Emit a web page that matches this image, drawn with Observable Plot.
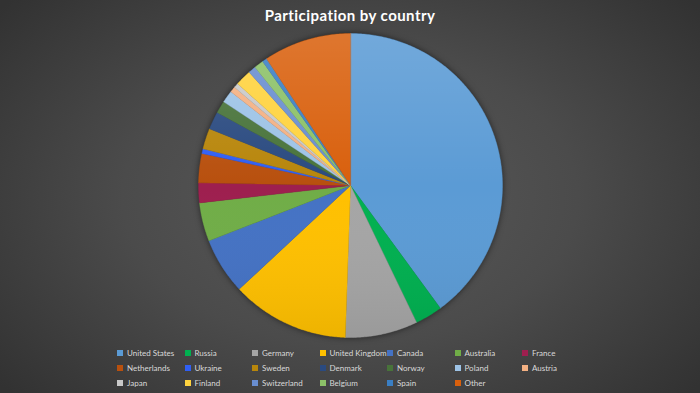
<!DOCTYPE html>
<html><head><meta charset="utf-8">
<script src="https://cdn.jsdelivr.net/npm/d3@7"></script>
<script src="https://cdn.jsdelivr.net/npm/@observablehq/plot@0.6"></script>
<style>
html,body{margin:0;padding:0;}
body{width:700px;height:393px;overflow:hidden;position:relative;
 background:radial-gradient(ellipse 65% 75% at 50% 50%, #5a5a5a 0%, #4b4b4b 50%, #323232 100%);
 font-family:Lato,"Open Sans",sans-serif;}
#title{position:absolute;top:6px;left:0;width:700px;text-align:center;color:#fff;font-weight:bold;font-size:15px;line-height:18px;letter-spacing:0.45px;}
#chart{position:absolute;top:30px;left:0;filter:drop-shadow(0 0 3px rgba(0,0,0,0.55));}
#legend{position:absolute;left:117px;top:345px;display:grid;grid-template-columns:repeat(7,67.5px);grid-auto-rows:15px;}
.item{display:flex;align-items:center;font-size:8px;color:#d9d9d9;white-space:nowrap;}
.sw{width:6px;height:6px;margin-right:4px;flex:none;}
</style></head>
<body>
<svg width="0" height="0" style="position:absolute"><defs>
<linearGradient id="shade" x1="0" y1="0" x2="0" y2="1">
<stop offset="0" stop-color="#fff" stop-opacity="0.14"/>
<stop offset="0.5" stop-color="#fff" stop-opacity="0"/>
<stop offset="1" stop-color="#000" stop-opacity="0.07"/>
</linearGradient></defs></svg>
<div id="title">Participation by country</div>
<div id="chart"></div>
<div id="legend"></div>
<script>
const countries = ["United States","Russia","Germany","United Kingdom","Canada","Australia","France",
  "Netherlands","Ukraine","Sweden","Denmark","Norway","Poland","Austria",
  "Japan","Finland","Switzerland","Belgium","Spain","Other"];
const shares = [39.9, 2.9, 7.7, 12.5, 6.0, 4.1, 2.1, 3.1, 0.5, 2.2, 1.9, 1.3, 1.3, 0.6, 0.5, 1.7, 0.8, 1.0, 0.5, 9.3];
const colors = ["#5B9BD5","#00B050","#A5A5A5","#FFC000","#4472C4","#70AD47","#9E1F4F",
  "#B8500E","#2F5FF5","#B8860B","#2A4A80","#48733A","#9DC3E6","#F4B183",
  "#C9C9C9","#FFD33F","#698ED0","#8CC168","#3A7FC4","#D9600D"];

const arcs = d3.pie().sort(null).value(d => d)(shares);
const pts = [];
arcs.forEach((a, i) => {
  const name = countries[i];
  pts.push({country: name, x: 0, y: 0});
  const n = Math.max(2, Math.ceil((a.endAngle - a.startAngle) / 0.01));
  for (let k = 0; k <= n; k++) {
    const t = a.startAngle + (a.endAngle - a.startAngle) * k / n;
    pts.push({country: name, x: Math.sin(t), y: Math.cos(t)});
  }
});

const chart = Plot.plot({
  width: 700, height: 310,
  marginLeft: 198, marginRight: 198, marginTop: 3, marginBottom: 3,
  x: {domain: [-1, 1], axis: null},
  y: {domain: [-1, 1], axis: null},
  color: {domain: countries, range: colors},
  style: {background: "transparent", overflow: "visible"},
  marks: [
    Plot.line(pts, {x: "x", y: "y", z: "country", fill: "country", stroke: "country", strokeWidth: 0.4, curve: "linear-closed"}),
    Plot.dot([{x: 0, y: 0}], {x: "x", y: "y", r: 152, fill: "url(#shade)", stroke: "none"})
  ]
});
document.getElementById("chart").appendChild(chart);

const leg = document.getElementById("legend");
countries.forEach((c, i) => {
  const d = document.createElement("div");
  d.className = "item";
  d.innerHTML = `<span class="sw" style="background:${colors[i]}"></span><span>${c}</span>`;
  leg.appendChild(d);
});
</script>
</body></html>
